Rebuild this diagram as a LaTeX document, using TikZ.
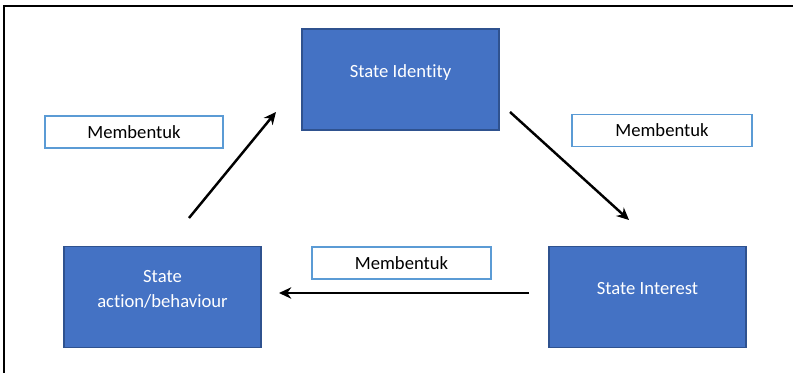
\documentclass[tikz,border=0pt]{standalone}
\usepackage{fontspec}
\setmainfont{Carlito}[Ligatures=NoCommon]
\usetikzlibrary{arrows.meta}
\pgfdeclarelayer{nodelayer}
\pgfdeclarelayer{edgelayer}
\pgfsetlayers{edgelayer,nodelayer,main}
\definecolor{boxblue}{HTML}{4472C4}
\definecolor{boxedge}{HTML}{2F528F}
\definecolor{tagedge}{HTML}{5B9BD5}
\tikzstyle{state}=[fill=boxblue, draw=boxedge, line width=0.8pt, text=white, align=center, minimum width=3.94cm, minimum height=2.02cm, text depth=0.33cm, font=\fontsize{10.6}{14}\selectfont]
\tikzstyle{tag}=[fill=white, draw=tagedge, line width=1pt, minimum width=3.56cm, minimum height=0.64cm, font=\fontsize{10.6}{13}\selectfont]
\tikzstyle{directed edge}=[-{Stealth[length=7pt,width=6.5pt]}, line width=1.4pt]

\begin{document}
\begin{tikzpicture}
    	\clip (0, 0) rectangle (15.86, 7.44);
    	\draw [line width=0.9pt] (0.08, -1) rectangle (17, 7.32);
    	\begin{pgfonlayer}{nodelayer}
    		\node [style=state] (0) at (8.01, 5.85) {State Identity};
    		\node [style=state] (1) at (12.95, 1.50) {State Interest};
    		\node [style=state] (2) at (3.25, 1.50) {State\\action/behaviour};
    		\node [style=tag] (3) at (2.68, 4.80) {Membentuk};
    		\node [style=tag, minimum width=3.6cm] (4) at (13.24, 4.83) {Membentuk};
    		\node [style=tag, minimum width=3.58cm] (5) at (8.03, 2.18) {Membentuk};
    		\coordinate (a) at (3.78, 3.08);
    		\coordinate (b) at (5.52, 5.20);
    		\coordinate (c) at (10.20, 5.20);
    		\coordinate (d) at (12.58, 3.04);
    		\coordinate (e) at (10.58, 1.58);
    		\coordinate (f) at (5.58, 1.58);
    	\end{pgfonlayer}
    	\begin{pgfonlayer}{edgelayer}
    		\draw [style=directed edge] (a) to (b);
    		\draw [style=directed edge] (c) to (d);
    		\draw [style=directed edge] (e) to (f);
    	\end{pgfonlayer}
    \end{tikzpicture}
\end{document}
